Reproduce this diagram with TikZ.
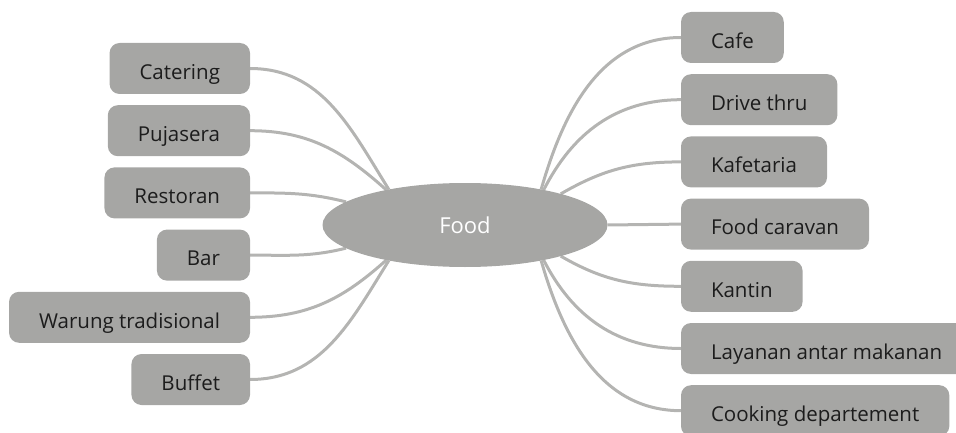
\documentclass[tikz,border=0pt]{standalone}
\usepackage{fontspec}
\setmainfont{Open Sans}
\usetikzlibrary{positioning,shapes,backgrounds}
\definecolor{boxgray}{RGB}{166,166,164}
\definecolor{linegray}{RGB}{180,180,178}
\definecolor{textdark}{RGB}{28,28,28}

\begin{document}
\begin{tikzpicture}[x=1pt,y=1pt,
    box/.style={rectangle,rounded corners=10pt,fill=boxgray,text=textdark,
        minimum height=51pt,inner xsep=30pt,outer sep=0pt,text height=21.6pt,text depth=0pt,
        font=\fontsize{20.5}{24}\selectfont},
    link/.style={draw=linegray,line width=3pt}]
\useasboundingbox (0,0) rectangle (956,432);
\node[shape=ellipse,fill=boxgray,text=white,minimum width=285pt,minimum height=84pt,
    inner sep=0pt,outer sep=0pt,font=\fontsize{22}{26}\selectfont] (food) at (465,207) {Food};
% left side
\node[box,anchor=east] (l1) at (250,363.5) {Catering};
\node[box,below left=11.2pt and 0pt of l1.south east] (l2) {Pujasera};
\node[box,below left=11.2pt and 0pt of l2.south east] (l3) {Restoran};
\node[box,below left=11.2pt and 0pt of l3.south east] (l4) {Bar};
\node[box,below left=11.2pt and 0pt of l4.south east] (l5) {Warung tradisional};
\node[box,below left=11.2pt and 0pt of l5.south east] (l6) {Buffet};
% right side
\node[box,anchor=west] (r1) at (681,394.5) {Cafe};
\node[box,below right=11.2pt and 0pt of r1.south west] (r2) {Drive thru};
\node[box,below right=11.2pt and 0pt of r2.south west] (r3) {Kafetaria};
\node[box,below right=11.2pt and 0pt of r3.south west] (r4) {Food caravan};
\node[box,below right=11.2pt and 0pt of r4.south west] (r5) {Kantin};
\node[box,below right=11.2pt and 0pt of r5.south west] (r6) {Layanan antar makanan};
\node[box,below right=11.2pt and 0pt of r6.south west] (r7) {Cooking departement};
\begin{scope}[on background layer]
    \draw[link] (l1.east) to[out=0,in=122] (food.155);
    \draw[link] (l2.east) to[out=0,in=138] (food.156);
    \draw[link] (l3.east) to[out=0,in=166] (food.169);
    \draw[link] (l4.east) to[out=0,in=194] (food.191);
    \draw[link] (l5.east) to[out=0,in=222] (food.204);
    \draw[link] (l6.east) to[out=0,in=238] (food.205);
    \draw[link] (r1.west) to[out=180,in=74] (food.25);
    \draw[link] (r2.west) to[out=180,in=63] (food.24);
    \draw[link] (r3.west) to[out=180,in=30] (food.18);
    \draw[link] (r4.west) -- (food.east);
    \draw[link] (r5.west) to[out=180,in=-30] (food.-18);
    \draw[link] (r6.west) to[out=180,in=-63] (food.-24);
    \draw[link] (r7.west) to[out=180,in=-74] (food.-25);
\end{scope}
\end{tikzpicture}
\end{document}
